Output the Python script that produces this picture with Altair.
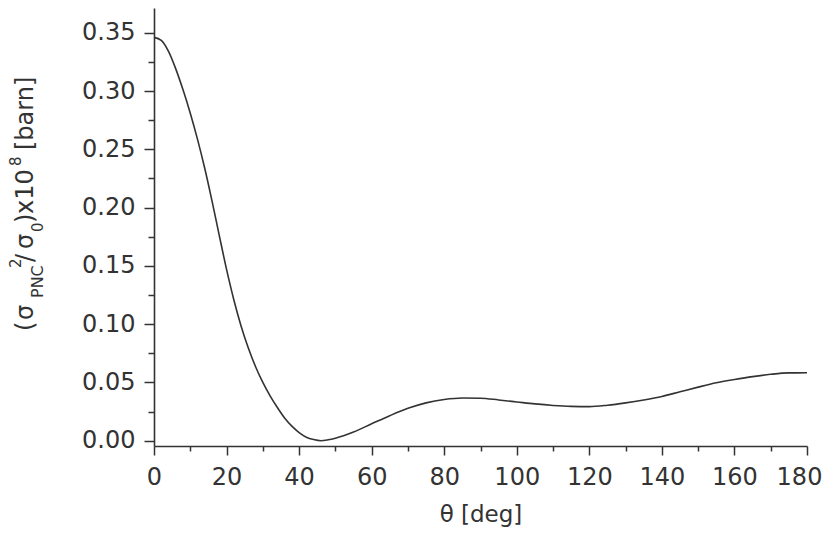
import altair as alt
import pandas as pd

theta_deg = [0, 2, 4, 6, 8, 10, 12, 14, 16, 18, 20, 22, 24, 26, 28, 30, 32, 34, 36, 38,
             40, 42, 44, 46, 48, 50, 55, 60, 65, 70, 75, 80, 85, 90, 95, 100, 105, 110,
             115, 120, 125, 130, 135, 140, 145, 150, 155, 160, 165, 170, 175, 180]
sigma_ratio = [0.346, 0.3435, 0.334, 0.319, 0.301, 0.281, 0.2585, 0.2335, 0.2055, 0.176,
               0.147, 0.121, 0.0985, 0.0795, 0.0635, 0.050, 0.0385, 0.0285, 0.0195, 0.0125,
               0.007, 0.003, 0.001, 0.0, 0.0008, 0.0022, 0.0075, 0.0145, 0.0215, 0.0278,
               0.0325, 0.0354, 0.0367, 0.0365, 0.0350, 0.0333, 0.0316, 0.0303, 0.0295,
               0.0293, 0.0305, 0.0325, 0.0350, 0.0380, 0.0420, 0.0460, 0.0497, 0.0525,
               0.0550, 0.0570, 0.0582, 0.0583]

x_ticks = list(range(0, 181, 10))
y_ticks = [round(i * 0.025, 3) for i in range(0, 15)]

# y-axis title pieces: (text, page y start, baseline x, font size)
title_pieces = [
    ("(", 331, 33, 24),
    ("σ", 320, 33, 24),
    ("PNC", 298, 43, 16),
    ("2", 268, 21, 15),
    ("/", 262, 33, 24),
    ("σ", 249, 33, 24),
    ("0", 232, 43, 15),
    (")", 223, 33, 24),
    ("x10", 214, 33, 24),
    ("8", 166, 21, 15),
    ("[barn]", 150, 33, 24),
]

INK = "#333333"
FONT = "DejaVu Sans"
LEFT, TOP = 154, 8

df = pd.DataFrame({"theta": theta_deg, "sigma": sigma_ratio})

line = alt.Chart(df).mark_line(color=INK, strokeWidth=1.6, interpolate="monotone").encode(
    x=alt.X("theta:Q",
            scale=alt.Scale(domain=[0, 180], nice=False, zero=False),
            axis=alt.Axis(values=x_ticks, title="θ [deg]",
                          labelExpr="datum.value % 20 == 0 ? datum.label : ''",
                          labelOverlap=False, labelFlush=False,
                          labelOffset={"condition": {"test": "datum.value == 180", "value": -8}, "value": 0},
                          tickSize={"condition": {"test": "datum.value % 20 == 0", "value": 9}, "value": 5},
                          labelPadding=10, titlePadding=14, titleFontSize=23, grid=False)),
    y=alt.Y("sigma:Q",
            scale=alt.Scale(domain=[-0.0045, 0.3712], nice=False, zero=False),
            axis=alt.Axis(values=y_ticks, title=None,
                          labelExpr="round(datum.value * 40) % 2 == 0 ? format(datum.value, '.2f') : ''",
                          labelOverlap=False, labelFlush=False,
                          tickSize={"condition": {"test": "round(datum.value * 40) % 2 == 0", "value": 10}, "value": 6},
                          labelPadding=9, grid=False)),
)

layers = [line]
for txt, py, px, fs in title_pieces:
    layers.append(
        alt.Chart(pd.DataFrame({"t": [txt]})).mark_text(
            angle=270, align="left", baseline="alphabetic", fontSize=fs, font=FONT, color=INK
        ).encode(text="t:N", x=alt.value(px - LEFT), y=alt.value(py - TOP))
    )

chart = alt.layer(*layers).properties(
    width=653, height=438,
    autosize=alt.AutoSizeParams(type="none"),
    padding={"left": 146, "top": 0, "right": 15, "bottom": 82},
).configure_view(stroke=None).configure_axis(
    domainColor=INK, domainWidth=1.6, tickColor=INK, tickWidth=1.5,
    labelColor=INK, labelFont=FONT, labelFontSize=24,
    titleColor=INK, titleFont=FONT, titleFontSize=24, titleFontWeight="normal",
)

chart.save("out.html", embed_options={"renderer": "svg", "actions": False})
